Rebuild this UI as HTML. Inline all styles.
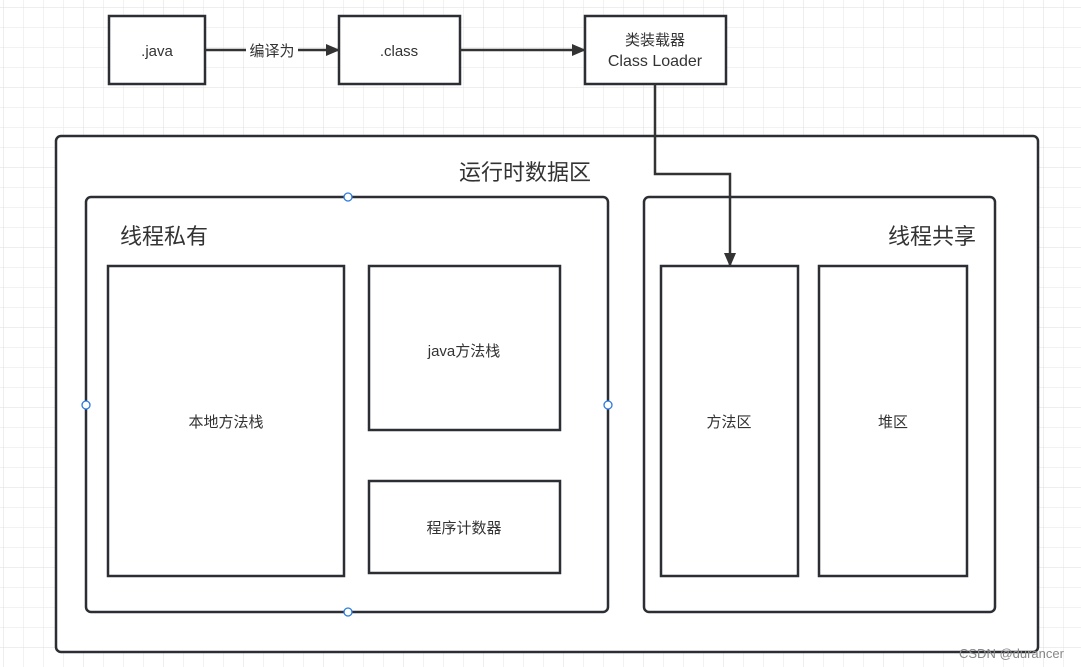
<!DOCTYPE html>
<html><head><meta charset="utf-8"><style>
html,body{margin:0;padding:0;background:#fff}
svg{display:block}
text{font-family:"Liberation Sans","Noto Sans CJK SC",sans-serif;fill:#333}
</style></head><body>
<svg width="1081" height="667" xmlns="http://www.w3.org/2000/svg">
<defs>
<pattern id="g" x="3" y="7" width="20" height="20" patternUnits="userSpaceOnUse">
<path d="M0 0H20M0 0V20" stroke="#e6e6e6" stroke-width="1" fill="none"/>
</pattern>
<pattern id="G" x="3" y="7" width="80" height="80" patternUnits="userSpaceOnUse">
<path d="M0 0H80M0 0V80" stroke="#dcdcdc" stroke-width="1" fill="none"/>
</pattern>
<marker id="a" markerWidth="14" markerHeight="12" refX="13" refY="6" orient="auto" markerUnits="userSpaceOnUse">
<path d="M0 0L14 6L0 12Z" fill="#333"/>
</marker>
</defs>
<rect width="1081" height="667" fill="url(#g)"/>
<rect width="1081" height="667" fill="url(#G)"/>
<g stroke="#2b2f33" stroke-width="2.5" fill="#fff">
<rect x="109" y="16" width="96" height="68"/>
<rect x="339" y="16" width="121" height="68"/>
<rect x="585" y="16" width="141" height="68"/>
<rect x="56" y="136" width="982" height="516" rx="5"/>
<rect x="86" y="197" width="522" height="415" rx="5"/>
<rect x="644" y="197" width="351" height="415" rx="5"/>
<rect x="108" y="266" width="236" height="310"/>
<rect x="369" y="266" width="191" height="164"/>
<rect x="369" y="481" width="191" height="92"/>
<rect x="661" y="266" width="137" height="310"/>
<rect x="819" y="266" width="148" height="310"/>
</g>
<g stroke="#333" stroke-width="2.5" fill="none">
<line x1="205" y1="50" x2="339" y2="50" marker-end="url(#a)"/>
<line x1="460" y1="50" x2="585" y2="50" marker-end="url(#a)"/>
<polyline points="655,84 655,174 730,174 730,266" marker-end="url(#a)"/>
</g>
<rect x="246" y="41" width="52" height="18" fill="#fff"/>
<text x="272" y="56" font-size="15" text-anchor="middle">编译为</text>
<text x="157" y="56" font-size="15" text-anchor="middle">.java</text>
<text x="399" y="56" font-size="15" text-anchor="middle">.class</text>
<text x="655" y="45" font-size="15" text-anchor="middle">类装载器</text>
<text x="655" y="66" font-size="16" text-anchor="middle">Class Loader</text>
<text x="525" y="180" font-size="22" text-anchor="middle">运行时数据区</text>
<text x="120" y="244" font-size="22">线程私有</text>
<text x="976" y="244" font-size="22" text-anchor="end">线程共享</text>
<text x="226" y="427" font-size="15" text-anchor="middle">本地方法栈</text>
<text x="464" y="356" font-size="15" text-anchor="middle">java方法栈</text>
<text x="464" y="533" font-size="15" text-anchor="middle">程序计数器</text>
<text x="729" y="427" font-size="15" text-anchor="middle">方法区</text>
<text x="893" y="427" font-size="15" text-anchor="middle">堆区</text>
<g fill="#fff" stroke="#2a7ae2" stroke-width="1.3">
<circle cx="348" cy="197" r="4"/><circle cx="86" cy="405" r="4"/>
<circle cx="608" cy="405" r="4"/><circle cx="348" cy="612" r="4"/>
</g>
<text x="959" y="658" font-size="13" style="fill:#888">CSDN @durancer</text>
</svg>
</body></html>
